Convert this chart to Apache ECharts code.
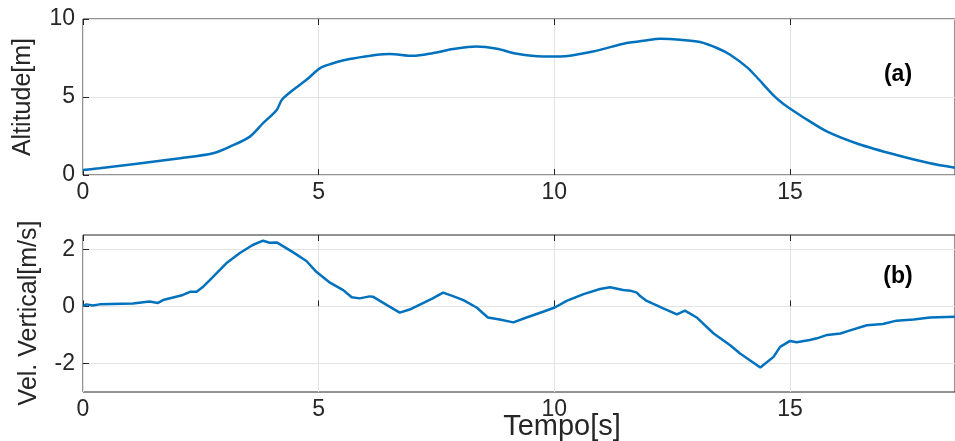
<!DOCTYPE html>
<html>
<head>
<meta charset="utf-8">
<script src="https://cdn.jsdelivr.net/npm/echarts@6/dist/echarts.min.js"></script>
<style>html,body{margin:0;padding:0;background:#fff;}#c{width:955px;height:441px;}</style>
</head>
<body>
<div id="c"></div>
<script>
// Altitude (a)
const altTime = [0,0.35,1.06,2.06,2.76,3.12,3.54,3.82,4.11,4.22,4.46,4.74,5.03,5.24,5.66,6.51,7.0,7.42,7.85,8.35,8.78,9.21,9.76,10.12,10.82,11.53,11.89,12.25,12.67,13.09,13.45,13.73,14.09,14.3,14.65,14.86,14.98,15.36,15.79,16.45,17.26,17.97,18.5];
const altValue = [0.32,0.43,0.69,1.07,1.39,1.82,2.46,3.32,4.17,4.82,5.46,6.1,6.85,7.1,7.43,7.75,7.64,7.81,8.07,8.24,8.09,7.77,7.6,7.6,7.92,8.46,8.6,8.73,8.67,8.52,8.14,7.71,6.9,6.25,5.1,4.55,4.3,3.55,2.78,1.99,1.28,0.75,0.47];
// Vertical velocity (b)
const velTime = [0,0.07,0.21,0.35,1.06,1.41,1.59,1.7,2.12,2.27,2.41,2.55,2.69,3.04,3.32,3.6,3.82,3.96,4.11,4.46,4.74,4.95,5.24,5.52,5.7,5.87,6.08,6.15,6.44,6.72,6.93,7.42,7.64,7.85,8.07,8.35,8.59,8.84,9.13,9.41,9.76,10.01,10.26,10.62,10.97,11.18,11.46,11.61,11.75,11.82,11.96,12.31,12.6,12.77,13.03,13.38,13.73,13.94,14.37,14.65,14.79,15.0,15.14,15.42,15.57,15.79,16.07,16.24,16.63,16.97,17.26,17.62,17.97,18.5];
const velValue = [0.01,0.07,0.03,0.07,0.1,0.17,0.12,0.22,0.4,0.51,0.51,0.69,0.92,1.51,1.86,2.15,2.3,2.23,2.24,1.89,1.59,1.21,0.83,0.57,0.32,0.28,0.35,0.34,0.05,-0.22,-0.11,0.28,0.48,0.36,0.22,-0.04,-0.39,-0.46,-0.56,-0.39,-0.19,-0.04,0.19,0.43,0.61,0.67,0.57,0.55,0.48,0.36,0.19,-0.07,-0.28,-0.15,-0.4,-0.95,-1.36,-1.65,-2.14,-1.77,-1.42,-1.21,-1.26,-1.18,-1.12,-1.0,-0.95,-0.86,-0.66,-0.62,-0.5,-0.46,-0.39,-0.36];
const xTicks = [0,5,10,15];
const altTicks = [0,5,10];
const velTicks = [-2,0,2];
const labels = {alt:'Altitude[m]', vel:'Vel. Vertical[m/s]', x:'Tempo[s]', a:'(a)', b:'(b)'};

const FONT = "'Liberation Sans', Arial, Helvetica, sans-serif";
const AX = '#262626';
const GRIDC = '#e3e3e3';
const LINEC = '#0072BD';

function xAxisDef(gi, showLabels, pos) {
  return {
    type:'value', gridIndex:gi, min:0, max:18.5, position:pos,
    axisLine:{show:false},
    axisTick:{show:true, inside:true, length:6, lineStyle:{color:AX}, customValues:xTicks},
    axisLabel:{show:showLabels, customValues:xTicks, color:AX, fontFamily:FONT, fontSize:23, margin:6},
    splitLine:{show:showLabels, lineStyle:{color:GRIDC, width:1}}
  };
}
function yAxisDef(gi, mn, mx, ticks) {
  return {
    type:'value', gridIndex:gi, min:mn, max:mx,
    axisLine:{show:false},
    axisTick:{show:true, inside:true, length:6, lineStyle:{color:AX}, customValues:ticks},
    axisLabel:{customValues:ticks, color:AX, fontFamily:FONT, fontSize:23, margin:8},
    splitLine:{show:true, lineStyle:{color:GRIDC, width:1}}
  };
}

const chart = echarts.init(document.getElementById('c'), null, {renderer:'canvas'});
chart.setOption({
  animation:false,
  backgroundColor:'#fff',
  grid:[
    {left:83, right:0, top:19, height:156, show:true, borderColor:AX, borderWidth:1, backgroundColor:'transparent'},
    {left:83, right:0, top:235, height:157, show:true, borderColor:AX, borderWidth:1, backgroundColor:'transparent'}
  ],
  xAxis:[ xAxisDef(0,true,'bottom'), xAxisDef(0,false,'top'), xAxisDef(1,true,'bottom'), xAxisDef(1,false,'top') ],
  yAxis:[ yAxisDef(0,0,10,altTicks), yAxisDef(1,-3,2.5,velTicks) ],
  series:[
    {type:'line', xAxisIndex:0, yAxisIndex:0, data:altTime.map((t,i)=>[t,altValue[i]]), showSymbol:false, smooth:0.3, lineStyle:{color:LINEC, width:2.5}, z:5},
    {type:'line', xAxisIndex:2, yAxisIndex:1, data:velTime.map((t,i)=>[t,velValue[i]]), showSymbol:false, lineStyle:{color:LINEC, width:2.5}, z:5}
  ],
  graphic:[
    {type:'text', x:23, y:97, rotation:Math.PI/2, style:{text:labels.alt, font:'25px '+FONT, fill:AX, align:'center', verticalAlign:'middle'}},
    {type:'text', x:29, y:313, rotation:Math.PI/2, style:{text:labels.vel, font:'25px '+FONT, fill:AX, align:'center', verticalAlign:'middle'}},
    {type:'text', x:562, y:427, style:{text:labels.x, font:'29px '+FONT, fill:AX, align:'center', verticalAlign:'middle'}},
    {type:'text', x:898, y:75, style:{text:labels.a, font:'bold 23px '+FONT, fill:'#000', align:'center', verticalAlign:'middle'}},
    {type:'text', x:898, y:277, style:{text:labels.b, font:'bold 23px '+FONT, fill:'#000', align:'center', verticalAlign:'middle'}}
  ]
});
</script>
</body>
</html>
